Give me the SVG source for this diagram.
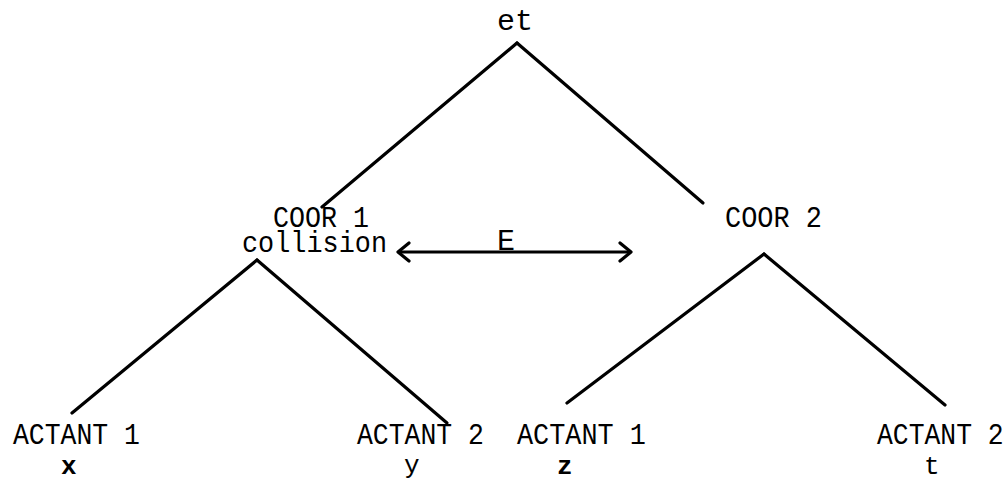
<svg xmlns="http://www.w3.org/2000/svg" width="1008" height="482" viewBox="0 0 1008 482">
<style>
.t{font-family:"Liberation Mono","DejaVu Sans Mono",monospace;font-size:30px;fill:#000}
.s{font-size:26px}
.n{font-size:26.4px}
.b{font-weight:bold}
.e{stroke:#000;stroke-width:3.2;fill:none;stroke-linecap:round;stroke-linejoin:round}
</style>
<rect width="1008" height="482" fill="#fff"/>
<g id="connectors">
<line class="e" x1="517" y1="43" x2="322" y2="207"/>
<line class="e" x1="517" y1="43" x2="703" y2="203"/>
<line class="e" x1="257" y1="260" x2="72" y2="413"/>
<line class="e" x1="257" y1="260" x2="447" y2="423"/>
<line class="e" x1="764" y1="254" x2="567" y2="403"/>
<line class="e" x1="764" y1="254" x2="945" y2="405"/>
<g id="relation-E">
<line class="e" x1="399" y1="252" x2="629" y2="252"/>
<path class="e" d="M409,243 L398,252 L409,261"/>
<path class="e" d="M620,243 L631,252 L620,261"/>
<text class="t" x="497" y="250">E</text>
</g>
</g>
<g id="et"><text class="t" x="497" y="30">et</text></g>
<g id="coor1">
<text class="t"><tspan x="273" y="227" textLength="96" lengthAdjust="spacingAndGlyphs">COOR 1</tspan><tspan x="242" y="252" textLength="145" lengthAdjust="spacingAndGlyphs">collision</tspan></text>
</g>
<g id="coor2"><text class="t" x="725" y="227" textLength="97" lengthAdjust="spacingAndGlyphs">COOR 2</text></g>
<g id="actant1-x">
<text class="t" x="13" y="444" textLength="127" lengthAdjust="spacingAndGlyphs">ACTANT 1</text>
<text class="t s b" x="61" y="474">x</text>
</g>
<g id="actant2-y">
<text class="t" x="357" y="444" textLength="127" lengthAdjust="spacingAndGlyphs">ACTANT 2</text>
<text class="t s" x="404" y="473">y</text>
</g>
<g id="actant1-z">
<text class="t" x="517" y="444" textLength="129" lengthAdjust="spacingAndGlyphs">ACTANT 1</text>
<text class="t s b" x="557" y="474">z</text>
</g>
<g id="actant2-t">
<text class="t n" transform="translate(877,444) scale(1,1.13)" x="0" y="0">ACTANT 2</text>
<text class="t s" x="924" y="474">t</text>
</g>
</svg>
